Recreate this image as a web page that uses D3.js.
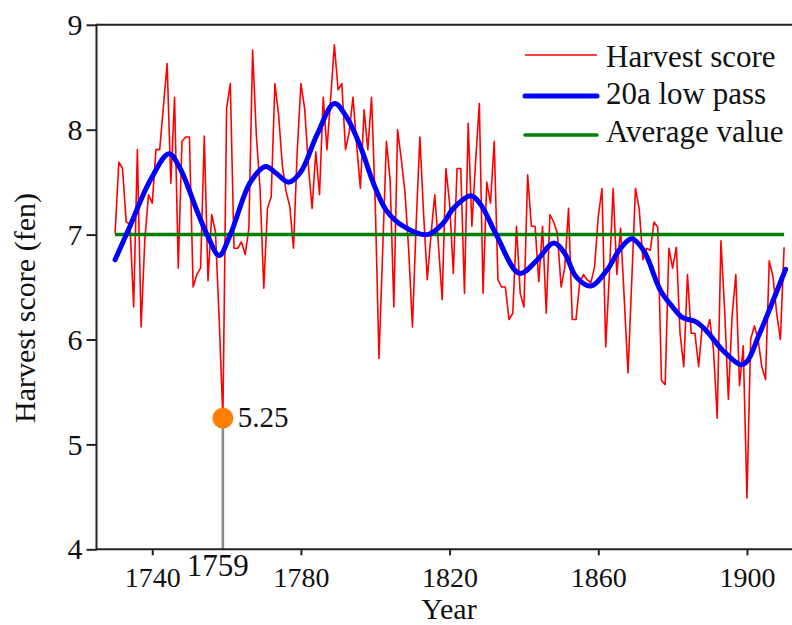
<!DOCTYPE html>
<html><head><meta charset="utf-8">
<script src="https://cdn.jsdelivr.net/npm/d3@7"></script>
<style>
body{margin:0;background:#fff}
text{font-family:"Liberation Serif","Times New Roman",serif;fill:#111}
</style>
</head><body>
<svg id="c" width="792" height="625"></svg>
<script>
// ---- data ----
const startYear = 1730;
const harvestScore = [
7.01,7.69,7.63,7.12,7.10,6.31,7.81,6.12,6.95,7.38, // 1730-1739
7.30,7.81,7.81,8.22,8.63,7.49,8.31,6.68,7.89,7.93, // 1740-1749
7.93,6.50,6.62,6.68,7.94,6.56,7.19,7.03,6.20,5.25, // 1750-1759
8.20,8.44,6.87,6.87,6.93,6.81,7.06,8.76,7.95,7.44, // 1760-1769
6.49,7.25,7.36,8.44,8.14,7.66,7.41,7.27,6.87,7.79, // 1770-1779
8.44,8.20,7.66,7.25,7.79,7.38,8.31,7.81,8.30,8.81, // 1780-1789
8.38,8.44,7.81,7.98,8.31,7.85,7.44,8.19,7.81,8.31, // 1790-1799
7.30,5.82,6.85,7.89,7.52,6.31,8.00,7.72,7.40,6.85, // 1800-1809
6.12,7.10,7.93,7.20,6.57,7.00,7.38,6.90,6.38,7.63, // 1810-1819
7.30,6.63,7.63,7.63,6.44,8.06,7.08,7.70,8.25,6.44, // 1820-1829
7.50,7.30,7.89,6.57,6.50,6.50,6.19,6.25,7.08,6.44, // 1830-1839
6.31,7.57,7.08,7.08,6.55,7.08,6.25,7.19,7.12,7.01, // 1840-1849
6.50,6.69,7.25,6.19,6.19,6.54,6.62,6.57,6.54,6.69, // 1850-1859
7.17,7.44,5.93,6.63,7.44,6.62,7.06,6.38,5.68,6.55, // 1860-1869
7.44,7.25,6.76,6.87,6.85,7.12,7.07,5.61,5.57,6.87, // 1870-1879
6.68,6.88,6.06,5.74,6.62,6.06,6.06,5.74,6.14,6.06, // 1880-1889
6.19,5.90,5.25,6.94,6.28,5.43,6.22,6.62,5.56,5.94, // 1890-1899
4.49,6.00,6.13,6.00,5.74,5.62,6.75,6.60,6.25,6.00, // 1900-1909
6.88                                               // 1910
];
const lowPassYears = [1730,1734,1739.5,1744.5,1747.5,1752,1755,1758,1761,1766.4,1770.5,1773.5,1776.7,1780,1784.3,1789,1792.3,1796,1799.5,1803,1807.5,1814,1818.3,1821,1825.8,1828.5,1832.4,1838.8,1843.6,1848,1851,1854,1858,1862.3,1866,1869,1872.2,1876.7,1880,1882.6,1886.2,1888.9,1893.4,1898.3,1900,1903.2,1906.8,1910.4];
const lowPassValues = [6.76,7.08,7.52,7.77,7.63,7.23,6.98,6.80,7.00,7.50,7.65,7.58,7.50,7.60,7.95,8.25,8.12,7.84,7.49,7.23,7.08,7.00,7.11,7.25,7.37,7.28,7.01,6.63,6.76,6.92,6.82,6.60,6.51,6.66,6.87,6.96,6.85,6.47,6.31,6.21,6.17,6.09,5.90,5.76,5.79,6.04,6.35,6.67];
const averageValue = 7.0;
const averageRange = [1730, 1910];
const xTicks = [1740, 1780, 1820, 1860, 1900];
const yTicks = [4, 5, 6, 7, 8, 9];
const markYear = 1759, markValue = 5.25;
const legendLabels = ["Harvest score", "20a low pass", "Average value"];

// ---- chart ----
const svg = d3.select("#c");
const x = d3.scaleLinear().domain([1725, 1915]).range([96.5, 802.7]);
const y = d3.scaleLinear().domain([4, 9]).range([549.3, 24.8]);
const axisColor = "#222";

const years = harvestScore.map((_, i) => startYear + i);
const redData = years.map((yr, i) => [yr, harvestScore[i]]);
const blueData = lowPassYears.map((yr, i) => [yr, lowPassValues[i]]);

const line = d3.line().x(d => x(d[0])).y(d => y(d[1]));

// red harvest score
svg.append("path").datum(redData).attr("d", line)
  .attr("fill", "none").attr("stroke", "#ff0000").attr("stroke-width", 1.6)
  .attr("stroke-linejoin", "round");

// green average
svg.append("path").datum(averageRange.map(yr => [yr, averageValue])).attr("d", line)
  .attr("fill", "none").attr("stroke", "#008000").attr("stroke-width", 3.5);

// blue low pass
svg.append("path").datum(blueData)
  .attr("d", d3.line().x(d => x(d[0])).y(d => y(d[1])).curve(d3.curveCatmullRom.alpha(0.5)))
  .attr("fill", "none").attr("stroke", "#0000ff").attr("stroke-width", 5)
  .attr("stroke-linecap", "round").attr("stroke-linejoin", "round");

// marker for 1759
svg.append("line").attr("x1", x(markYear)).attr("x2", x(markYear))
  .attr("y1", y(markValue)).attr("y2", y(4))
  .attr("stroke", "#8c8c8c").attr("stroke-width", 2.6);
svg.append("circle").attr("cx", x(markYear)).attr("cy", y(markValue)).attr("r", 10.5)
  .attr("fill", "#ff8000");
svg.append("text").attr("x", x(markYear) + 15).attr("y", y(markValue) + 9)
  .attr("font-size", 29).text(markValue.toFixed(2));

// axes
const gx = svg.append("g").attr("transform", `translate(0,${y(4)})`)
  .call(d3.axisBottom(x).tickValues(xTicks).tickSize(6).tickPadding(4).tickFormat(d3.format("d")));
gx.select(".domain").remove();
gx.selectAll(".tick line").attr("stroke", axisColor).attr("stroke-width", 2);
gx.selectAll(".tick text").attr("font-size", 28).attr("fill", "#111")
  .attr("font-family", '"Liberation Serif","Times New Roman",serif')
  .attr("dy", null).attr("y", 38);

const gy = svg.append("g").attr("transform", `translate(${x(1725)},0)`)
  .call(d3.axisLeft(y).tickValues(yTicks).tickSize(10).tickPadding(4).tickFormat(d3.format("d")));
gy.select(".domain").remove();
gy.selectAll(".tick line").attr("stroke", axisColor).attr("stroke-width", 2);
gy.selectAll(".tick text").attr("font-size", 30).attr("fill", "#111")
  .attr("font-family", '"Liberation Serif","Times New Roman",serif');

// spines
svg.append("line").attr("x1", x(1725)).attr("x2", 792).attr("y1", y(4)).attr("y2", y(4))
  .attr("stroke", axisColor).attr("stroke-width", 2);
svg.append("line").attr("x1", x(1725)).attr("x2", 792).attr("y1", y(9)).attr("y2", y(9))
  .attr("stroke", axisColor).attr("stroke-width", 2);
svg.append("line").attr("x1", x(1725)).attr("x2", x(1725)).attr("y1", y(9) - 1).attr("y2", y(4) + 1)
  .attr("stroke", axisColor).attr("stroke-width", 2);

// special 1759 label
svg.append("text").attr("x", x(markYear) - 5).attr("y", 576).attr("text-anchor", "middle")
  .attr("font-size", 31).text(String(markYear));

// axis titles
svg.append("text").attr("x", 449).attr("y", 619).attr("text-anchor", "middle")
  .attr("font-size", 30).text("Year");
svg.append("text").attr("transform", "translate(35,308) rotate(-90)").attr("text-anchor", "middle")
  .attr("font-size", 30).text("Harvest score (fen)");

// legend
const legendRows = [
  {label: legendLabels[0], color: "#ff0000", width: 1.6, ly: 55, ty: 66.5},
  {label: legendLabels[1], color: "#0000ff", width: 5, ly: 96, ty: 104},
  {label: legendLabels[2], color: "#008000", width: 3.5, ly: 135, ty: 142}
];
const lg = svg.append("g");
legendRows.forEach(r => {
  lg.append("line").attr("x1", 525).attr("x2", 597).attr("y1", r.ly).attr("y2", r.ly)
    .attr("stroke", r.color).attr("stroke-width", r.width).attr("stroke-linecap", r.width > 2 ? "round" : "butt");
  lg.append("text").attr("x", 606).attr("y", r.ty).attr("font-size", 31).text(r.label);
});
</script>
</body></html>
